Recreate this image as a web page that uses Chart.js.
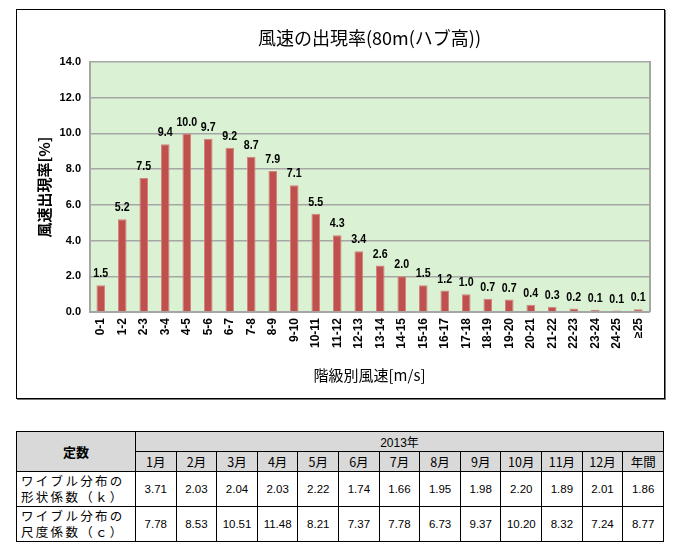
<!DOCTYPE html>
<html><head><meta charset="utf-8">
<script src="https://cdn.jsdelivr.net/npm/chart.js@4/dist/chart.umd.min.js"></script>
<style>
body{margin:0;background:#fff;width:680px;height:554px;position:relative;overflow:hidden;}
#frame{position:absolute;left:16px;top:9px;width:647px;height:388px;border:1px solid #000;box-shadow:1px 1px 0 #777;}
#frame canvas{display:block;}
table{position:absolute;left:16px;top:431px;border-collapse:collapse;table-layout:fixed;width:648px;font-family:"Liberation Sans",Arial,sans-serif;font-size:11.5px;color:#000;}
td{border:1px solid #000;text-align:center;padding:0;}
.h{background:#D9D9D9;}
.jp{font-family:"Noto Sans CJK JP",sans-serif;}
.lab{text-align:left;padding-left:4px;font-family:"Noto Sans CJK JP",sans-serif;font-size:12.5px;letter-spacing:2.3px;line-height:16px;}
</style></head>
<body>
<div id="frame"><canvas id="c" width="647" height="388"></canvas></div>
<table id="t"></table>
<script>
const categories = ["0-1","1-2","2-3","3-4","4-5","5-6","6-7","7-8","8-9","9-10","10-11","11-12","12-13","13-14","14-15","15-16","16-17","17-18","18-19","19-20","20-21","21-22","22-23","23-24","24-25","≥25"];
const frequency = [1.5,5.2,7.5,9.4,10.0,9.7,9.2,8.7,7.9,7.1,5.5,4.3,3.4,2.6,2.0,1.5,1.2,1.0,0.74,0.7,0.4,0.3,0.2,0.12,0.08,0.15];
const yTicks = [0,2,4,6,8,10,12,14];
const months = ["1月","2月","3月","4月","5月","6月","7月","8月","9月","10月","11月","12月","年間"];
const shapeK = ["3.71","2.03","2.04","2.03","2.22","1.74","1.66","1.95","1.98","2.20","1.89","2.01","1.86"];
const scaleC = ["7.78","8.53","10.51","11.48","8.21","7.37","7.78","6.73","9.37","10.20","8.32","7.24","8.77"];

// table
const t = document.getElementById('t');
let html = '<colgroup><col style="width:119px">' + months.map(()=>'<col>').join('') + '</colgroup>';
html += '<tr style="height:20px"><td class="h jp" rowspan="2" style="font-weight:bold;font-size:13px">定数</td><td class="h" colspan="13" style="font-size:12px">2013<span class="jp">年</span></td></tr>';
html += '<tr style="height:20px">' + months.map(m=>'<td class="h jp" style="font-size:12.5px">'+m+'</td>').join('') + '</tr>';
html += '<tr style="height:35px"><td class="lab">ワイブル分布の<br>形状係数（ｋ）</td>' + shapeK.map(v=>'<td>'+v+'</td>').join('') + '</tr>';
html += '<tr style="height:35px"><td class="lab">ワイブル分布の<br>尺度係数（ｃ）</td>' + scaleC.map(v=>'<td>'+v+'</td>').join('') + '</tr>';
t.innerHTML = html;

const bgPlugin = {
  id:'bg',
  beforeDraw(chart){
    const {ctx, chartArea:a} = chart;
    ctx.save();
    ctx.fillStyle = '#DAF2D3';
    ctx.fillRect(a.left, a.top, a.right-a.left, a.bottom-a.top);
    ctx.restore();
  },
  afterDraw(chart){
    const {ctx, chartArea:a} = chart;
    ctx.save();
    ctx.strokeStyle = '#A6A6A6';
    ctx.lineWidth = 2;
    ctx.beginPath();
    ctx.moveTo(a.right+1, a.top-1);
    ctx.lineTo(a.right+1, a.bottom);
    ctx.stroke();
    ctx.restore();
  }
};
const labelPlugin = {
  id:'vals',
  afterDatasetsDraw(chart){
    const {ctx} = chart;
    const meta = chart.getDatasetMeta(0);
    const sx = 0.82;
    ctx.save();
    ctx.font = 'bold 13px "Liberation Sans", sans-serif';
    ctx.fillStyle = '#000';
    ctx.textAlign = 'center';
    ctx.textBaseline = 'bottom';
    ctx.scale(sx, 1);
    meta.data.forEach((el,i)=>{
      ctx.fillText(frequency[i].toFixed(1), el.x / sx, el.y - 5);
    });
    ctx.restore();
  }
};

new Chart(document.getElementById('c'), {
  type:'bar',
  data:{ labels:categories, datasets:[{ data:frequency, backgroundColor:'#C0504D', borderColor:'#D2827F', borderWidth:{left:1,right:1,top:1,bottom:0}, barPercentage:0.4, categoryPercentage:1 }]},
  options:{
    responsive:false, animation:false,
    layout:{padding:{left:0,right:15,top:0,bottom:0}},
    plugins:{
      legend:{display:false}, tooltip:{enabled:false},
      title:{display:true, text:'風速の出現率(80m(ハブ高))', fullSize:false, color:'#000',
        font:{family:'"Noto Sans CJK JP", sans-serif', size:18, weight:'normal', lineHeight:1.2},
        padding:{top:17.5, bottom:12.9}}
    },
    scales:{
      x:{
        grid:{display:false, drawTicks:false},
        border:{display:true, color:'#A6A6A6', width:2},
        ticks:{autoSkip:false, maxRotation:90, minRotation:90, padding:6, color:'#000',
          font:{family:'"Liberation Sans", sans-serif', size:12, weight:'bold'}},
        title:{display:true, text:'階級別風速[m/s]', color:'#000',
          font:{family:'"Noto Sans CJK JP", sans-serif', size:15, weight:'normal', lineHeight:1.2},
          padding:{top:0,bottom:14}},
        afterFit(s){ s.height = 86; }
      },
      y:{
        min:0, max:14,
        afterBuildTicks(s){ s.ticks = yTicks.map(v=>({value:v})); },
        grid:{color:'#A6A6A6', lineWidth:1.5, drawTicks:false},
        border:{display:true, color:'#A6A6A6', width:2},
        ticks:{padding:9, color:'#000', callback:v=>Number(v).toFixed(1),
          font:{family:'"Liberation Sans", sans-serif', size:11, weight:'bold'}},
        title:{display:true, text:'風速出現率[%]', color:'#000',
          font:{family:'"Noto Sans CJK JP", sans-serif', size:15, weight:'bold', lineHeight:1.2},
          padding:{top:18,bottom:0}},
        afterFit(s){ s.width = 73; }
      }
    }
  },
  plugins:[bgPlugin, labelPlugin]
});
</script>
</body></html>
